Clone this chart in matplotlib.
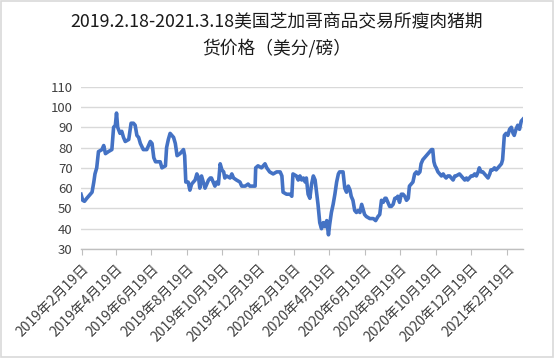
import matplotlib
matplotlib.use("Agg")
import matplotlib.pyplot as plt
import pandas as pd
from matplotlib.patches import Rectangle

plt.rcParams['font.family'] = ['Noto Sans CJK SC', 'DejaVu Sans']

title = "2019.2.18-2021.3.18美国芝加哥商品交易所瘦肉猪期\n货价格（美分/磅）"
start_date = "2019-02-19"
day_offsets = [-1, 2, 5, 9, 15, 18, 21, 23, 26, 29, 35, 38, 41, 46, 52, 55, 58, 60, 62, 66,
               69, 72, 75, 81, 85, 89, 92, 95, 98, 101, 106, 112, 118, 121, 124, 127, 129, 135, 138, 144,
               146, 149, 152, 158, 161, 164, 169, 175, 177, 179, 183, 186, 189, 192, 195, 198, 201, 203, 206, 209,
               212, 215, 218, 221, 223, 226, 229, 232, 235, 238, 241, 244, 246, 249, 255, 258, 261, 266, 272, 275,
               281, 286, 289, 292, 298, 299, 303, 309, 315, 318,
               323, 329, 335, 341, 344, 346, 352, 358, 361, 363, 369, 372, 375, 378, 381, 384, 386, 389, 392, 395,
               398, 401, 404, 406, 409, 412, 415, 418, 421, 424, 426, 429, 432, 435, 438, 441, 443, 446, 449, 452,
               455, 458, 461, 463, 466, 469, 472, 475, 478, 481, 483, 486, 489, 495, 501, 505, 509, 512, 515, 518,
               521, 523, 526, 529, 532, 535, 538, 541, 543, 546, 549, 552, 555, 558, 561, 563, 566, 569, 572, 575,
               578, 581, 583, 586, 589, 592, 595, 598, 601, 603, 605, 607, 609, 612, 615, 618, 621, 623, 626, 629,
               632, 635, 638, 641, 643, 649, 652, 655, 658, 661, 663, 666, 669, 672, 675, 678, 681, 683, 686, 689,
               692, 695, 698, 701, 703, 706, 709, 712, 715, 718, 721, 723, 726, 729, 732, 735, 738, 741, 743, 746,
               749, 752, 755, 758]
prices = [57, 54, 53.5, 55, 57, 58, 63, 67, 70, 78, 79, 81, 77, 78, 79, 90, 91, 97, 90, 87,
          88, 85, 83, 84, 92, 92, 91, 86, 85, 82, 79, 79, 83, 82, 75, 73, 73, 73, 70, 71,
          80, 84, 87, 85, 82, 76, 77, 79, 76, 63, 63, 59, 62, 63, 64, 67, 65, 60, 66, 63,
          60, 62, 64, 65, 65, 63, 61, 63, 62, 72, 69, 68, 65, 66, 65, 67, 65, 64, 63, 61,
          61, 62, 61, 61, 61, 70, 71, 70, 72, 70,
          68, 67, 68, 68, 66, 58, 57, 57, 56, 67, 66, 64, 66, 64, 65, 63, 65, 57, 55, 62,
          66, 64, 57, 52, 43, 40, 43, 41, 44, 37, 42, 48, 52, 57, 63, 67, 68, 68, 68, 60,
          58, 61, 59, 56, 54, 49, 48, 49, 48, 52, 50, 47, 46, 45, 45, 44, 46, 47, 54, 53,
          55, 55, 53, 51, 51, 52, 55, 55, 56, 53, 57, 57, 56, 54, 55, 61, 62, 63, 67, 68,
          67, 68, 72, 74, 75, 76, 77, 78, 79, 79, 73, 71, 70, 68, 67, 66, 67, 66, 65, 66,
          66, 65, 64, 66, 66, 67, 66, 65, 64, 65, 64, 65, 66, 66, 67, 66, 68, 70, 68, 68,
          67, 66, 65, 67, 69, 69, 70, 69, 70, 71, 72, 74, 86, 87, 86, 89, 90, 87, 86, 89,
          91, 89, 93, 94]
tick_dates = ["2019-02-19", "2019-04-19", "2019-06-19", "2019-08-19", "2019-10-19", "2019-12-19",
              "2020-02-19", "2020-04-19", "2020-06-19", "2020-08-19", "2020-10-19", "2020-12-19",
              "2021-02-19"]
tick_labels = ["2019年2月19日", "2019年4月19日", "2019年6月19日", "2019年8月19日", "2019年10月19日",
               "2019年12月19日", "2020年2月19日", "2020年4月19日", "2020年6月19日", "2020年8月19日",
               "2020年10月19日", "2020年12月19日", "2021年2月19日"]
y_ticks = [30, 40, 50, 60, 70, 80, 90, 100, 110]

dates = pd.Timestamp(start_date) + pd.to_timedelta(day_offsets, unit="D")

fig = plt.figure(figsize=(5.54, 3.58), dpi=100)
fig.patches.append(Rectangle((0.002, 0.003), 0.996, 0.994, transform=fig.transFigure,
                             fill=False, edgecolor="#d9d9d9", linewidth=1.2))
ax = fig.add_axes([0.1462, 0.3045, 0.7978, 0.4533])
ax.plot(dates, prices, color="#4472C4", linewidth=2.6, solid_joinstyle="round")

ax.set_ylim(30, 110)
ax.set_yticks(y_ticks)
ax.set_xlim(pd.Timestamp("2019-02-18"), pd.Timestamp("2021-03-18"))
ax.set_xticks(pd.to_datetime(tick_dates))
ax.set_xticklabels(tick_labels, rotation=45, ha="right", rotation_mode="anchor",
                   fontsize=10, color="#404040")
ax.tick_params(axis="x", direction="out", length=4, color="#bfbfbf", pad=5)
ax.tick_params(axis="y", length=0, labelsize=9.5, labelcolor="#404040", pad=6)
ax.grid(axis="y", color="#d9d9d9", linewidth=1.0)
ax.set_axisbelow(True)
for s in ["top", "right", "left"]:
    ax.spines[s].set_visible(False)
ax.spines["bottom"].set_color("#bfbfbf")
ax.spines["bottom"].set_linewidth(1.0)

fig.text(0.5, 1 - 35 / 358, title, ha="center", va="center", fontsize=12.8,
         color="#1a1a1a", linespacing=1.55)

fig.savefig("out.png", dpi=100)
